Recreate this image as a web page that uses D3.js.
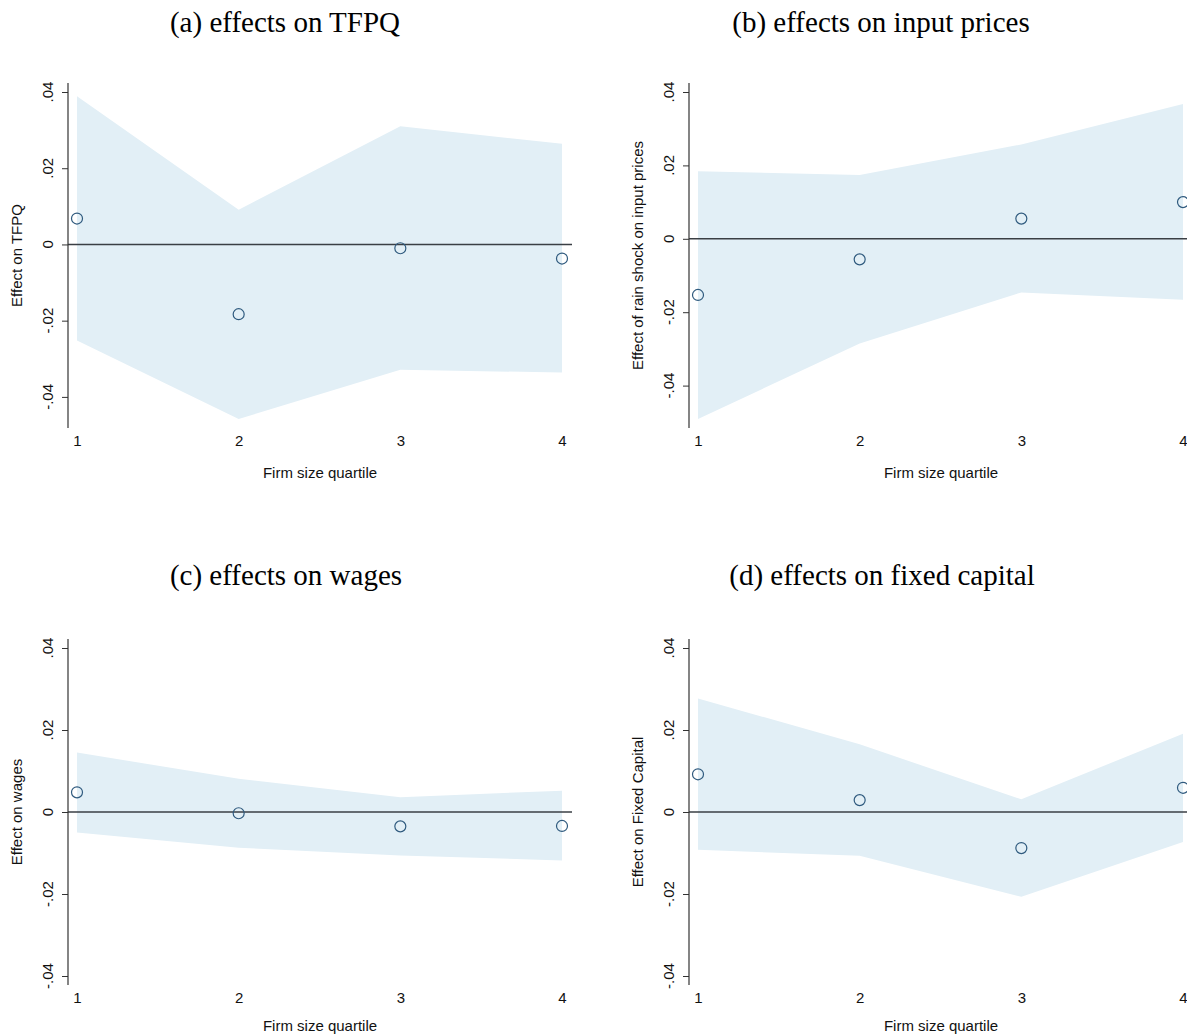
<!DOCTYPE html>
<html>
<head>
<meta charset="utf-8">
<script src="https://cdn.jsdelivr.net/npm/d3@7"></script>
<style>
  html, body { margin: 0; padding: 0; background: #ffffff; }
  svg { display: block; }
</style>
</head>
<body>
<svg id="chart" width="1187" height="1036"></svg>
<script>
// ---- data ----
const quartiles = [1, 2, 3, 4];
const xTickLabels = ["1", "2", "3", "4"];
const yTicks = [-0.04, -0.02, 0, 0.02, 0.04];
const yTickLabels = ["-.04", "-.02", "0", ".02", ".04"];

const tfpqEst = [0.0068, -0.0183, -0.0010, -0.0037];
const tfpqLo  = [-0.0252, -0.0458, -0.0329, -0.0336];
const tfpqHi  = [0.0389, 0.0091, 0.0310, 0.0264];

const inputEst = [-0.0153, -0.0056, 0.0055, 0.0100];
const inputLo  = [-0.0491, -0.0285, -0.0146, -0.0166];
const inputHi  = [0.0184, 0.0174, 0.0257, 0.0367];

const wagesEst = [0.0048, -0.0003, -0.0035, -0.0034];
const wagesLo  = [-0.0050, -0.0087, -0.0106, -0.0118];
const wagesHi  = [0.0145, 0.0081, 0.0036, 0.0052];

const capEst = [0.0092, 0.0029, -0.0088, 0.0059];
const capLo  = [-0.0092, -0.0107, -0.0207, -0.0073];
const capHi  = [0.0277, 0.0165, 0.0031, 0.0191];

const panelTitles = ["(a) effects on TFPQ", "(b) effects on input prices",
                     "(c) effects on wages", "(d) effects on fixed capital"];
const yTitles = ["Effect on TFPQ", "Effect of rain shock on input prices",
                 "Effect on wages", "Effect on Fixed Capital"];
const xTitle = "Firm size quartile";

// ---- layout ----
const panels = [
  {est: tfpqEst,  lo: tfpqLo,  hi: tfpqHi,  ax: 68,  top: 83,  bottom: 428, titleX: 285, titleY: 32,  xtY: 50},
  {est: inputEst, lo: inputLo, hi: inputHi, ax: 689, top: 83,  bottom: 428, titleX: 881, titleY: 32,  xtY: 50},
  {est: wagesEst, lo: wagesLo, hi: wagesHi, ax: 68,  top: 639, bottom: 985, titleX: 286, titleY: 585, xtY: 46},
  {est: capEst,   lo: capLo,   hi: capHi,   ax: 689, top: 639, bottom: 985, titleX: 882, titleY: 585, xtY: 46}
];
const pad = 9;
const plotW = 504;

const fillCol = "#e2eff6";
const markCol = "#2f5a7e";
const lineCol = "#3a3f44";
const axisCol = "#333333";
const sans = "'Liberation Sans', Arial, sans-serif";
const serif = "'Liberation Serif', 'Times New Roman', serif";
const fs = 15;

const svg = d3.select("#chart");

panels.forEach((p, i) => {
  const g = svg.append("g");
  const x = d3.scaleLinear().domain([1, 4]).range([p.ax + pad, p.ax + plotW - pad - 1]);
  const ymin = Math.min(d3.min(p.lo), d3.min(yTicks));
  const ymax = Math.max(d3.max(p.hi), d3.max(yTicks));
  const y = d3.scaleLinear().domain([ymin, ymax]).range([p.bottom - pad, p.top + pad]);

  const rows = quartiles.map((q, k) => ({q, est: p.est[k], lo: p.lo[k], hi: p.hi[k]}));

  // CI band
  g.append("path")
    .datum(rows)
    .attr("d", d3.area().x(d => x(d.q)).y0(d => y(d.lo)).y1(d => y(d.hi)))
    .attr("fill", fillCol);

  // zero line
  g.append("line")
    .attr("x1", p.ax).attr("x2", p.ax + plotW)
    .attr("y1", y(0)).attr("y2", y(0))
    .attr("stroke", lineCol).attr("stroke-width", 1.4);

  // y axis
  const yAxis = d3.axisLeft(y).tickValues(yTicks).tickSize(6).tickSizeOuter(0)
    .tickFormat((d, k) => yTickLabels[k]);
  const ya = g.append("g").attr("transform", `translate(${p.ax},0)`).call(yAxis);
  ya.select(".domain").remove();
  ya.selectAll(".tick line").attr("stroke", axisCol).attr("stroke-width", 1);
  ya.selectAll(".tick text").remove();
  g.append("line")
    .attr("x1", p.ax).attr("x2", p.ax)
    .attr("y1", p.top).attr("y2", p.bottom)
    .attr("stroke", axisCol).attr("stroke-width", 1.2);
  g.selectAll(".ytl").data(yTicks).enter().append("text")
    .attr("transform", d => `translate(${p.ax - 15},${y(d)}) rotate(-90)`)
    .attr("text-anchor", "middle")
    .attr("font-family", sans).attr("font-size", fs).attr("fill", "#111")
    .text((d, k) => yTickLabels[k]);

  // x tick labels (no axis line in reference)
  const xAxis = d3.axisBottom(x).tickValues(quartiles).tickSize(0)
    .tickFormat((d, k) => xTickLabels[k]);
  const xa = g.append("g").attr("transform", `translate(0,${p.bottom})`).call(xAxis);
  xa.select(".domain").remove();
  xa.selectAll(".tick line").remove();
  xa.selectAll(".tick text")
    .attr("y", 18).attr("dy", null)
    .attr("font-family", sans).attr("font-size", fs).attr("fill", "#111");

  // markers
  g.selectAll(".pt").data(rows).enter().append("circle")
    .attr("cx", d => x(d.q)).attr("cy", d => y(d.est)).attr("r", 5.5)
    .attr("fill", "none").attr("stroke", markCol).attr("stroke-width", 1.2);

  // axis titles
  g.append("text")
    .attr("transform", `translate(${p.ax - 46},${(p.top + p.bottom) / 2}) rotate(-90)`)
    .attr("text-anchor", "middle")
    .attr("font-family", sans).attr("font-size", fs).attr("fill", "#111")
    .text(yTitles[i]);
  g.append("text")
    .attr("x", p.ax + plotW / 2).attr("y", p.bottom + p.xtY)
    .attr("text-anchor", "middle")
    .attr("font-family", sans).attr("font-size", fs).attr("fill", "#111")
    .text(xTitle);

  // panel title
  g.append("text")
    .attr("x", p.titleX).attr("y", p.titleY)
    .attr("text-anchor", "middle")
    .attr("font-family", serif).attr("font-size", 29).attr("fill", "#000")
    .text(panelTitles[i]);
});
</script>
</body>
</html>
